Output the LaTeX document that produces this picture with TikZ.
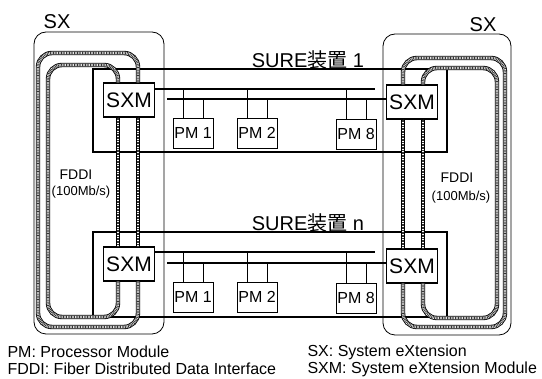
\documentclass[tikz,border=0pt]{standalone}
\usepackage{fontspec}
\setmainfont{Liberation Sans}
\newfontfamily\cjk{Noto Sans CJK JP}
\newcommand{\fs}[1]{\fontsize{#1}{#1}\selectfont}

\tikzset{
  sxbox/.style={draw, line width=0.8pt, rounded corners=12pt},
  unitbox/.style={draw, line width=1.3pt},
  sxmbox/.style={draw, line width=1.4pt, fill=white, minimum width=51pt,
    minimum height=34pt, inner sep=0pt, font=\fs{21}},
  pmbox/.style={draw, line width=0.9pt, fill=white, minimum width=40pt,
    minimum height=30pt, inner sep=0pt, font=\fs{16}},
  bus/.style={line width=2.2pt},
  tap/.style={line width=0.9pt},
  fddi/.style={draw=white, line width=2.6pt, rounded corners=14pt,
    preaction={draw=black, line width=4.4pt},
    postaction={draw=black!80, line width=2.6pt, dash pattern=on 0.8pt off 0.8pt}}
}

\begin{document}
\begin{tikzpicture}[x=1pt, y=-1pt]
        \useasboundingbox (0,0) rectangle (542,379);
        % SX
        \draw[sxbox] (34,32) rectangle (164,334);
        \draw[sxbox] (383,34) rectangle (511,335);
        \node[font=\fs{20}] (sxl) at (57,22) {SX};
        \node[font=\fs{20}] (sxr) at (483,25) {SX};
        % SURE 1
        \draw[unitbox] (93,69) rectangle (447,152);
        \node[font=\fs{20}] (u1) at (308,60) {SURE{\cjk 装置} 1};
        \node[sxmbox] (sa) at (129,100) {SXM};
        \node[sxmbox] (sb) at (412,102) {SXM};
        \node[pmbox] (pm11) at (193,133) {PM 1};
        \node[pmbox] (pm12) at (257,133) {PM 2};
        \node[pmbox] (pm18) at (356,134) {PM 8};
        \coordinate (t1) at (375,89);
        \coordinate (l1) at (167,99);
        \draw[bus] (sa.east |- t1) -- (t1);
        \draw[bus] (l1) -- (l1 -| sb.west);
        \draw[tap] ([xshift=-10pt]pm11.north) -- ([xshift=-10pt]pm11.north |- t1);
        \draw[tap] ([xshift=10pt]pm11.north) -- ([xshift=10pt]pm11.north |- l1);
        \draw[tap] ([xshift=-10pt]pm12.north) -- ([xshift=-10pt]pm12.north |- t1);
        \draw[tap] ([xshift=10pt]pm12.north) -- ([xshift=10pt]pm12.north |- l1);
        \draw[tap] ([xshift=-10pt]pm18.north) -- ([xshift=-10pt]pm18.north |- t1);
        \draw[tap] ([xshift=10pt]pm18.north) -- ([xshift=10pt]pm18.north |- l1);
        % SURE n
        \draw[unitbox] (93,232) rectangle (447,317);
        \node[font=\fs{20}] (un) at (308,223) {SURE{\cjk 装置} n};
        \node[sxmbox] (sc) at (129,264) {SXM};
        \node[sxmbox] (sd) at (412,266) {SXM};
        \node[pmbox] (pm21) at (193,297) {PM 1};
        \node[pmbox] (pm22) at (257,297) {PM 2};
        \node[pmbox] (pm28) at (356,298) {PM 8};
        \coordinate (t2) at (375,252);
        \coordinate (l2) at (167,263);
        \draw[bus] (sc.east |- t2) -- (t2);
        \draw[bus] (l2) -- (l2 -| sd.west);
        \draw[tap] ([xshift=-10pt]pm21.north) -- ([xshift=-10pt]pm21.north |- t2);
        \draw[tap] ([xshift=10pt]pm21.north) -- ([xshift=10pt]pm21.north |- l2);
        \draw[tap] ([xshift=-10pt]pm22.north) -- ([xshift=-10pt]pm22.north |- t2);
        \draw[tap] ([xshift=10pt]pm22.north) -- ([xshift=10pt]pm22.north |- l2);
        \draw[tap] ([xshift=-10pt]pm28.north) -- ([xshift=-10pt]pm28.north |- t2);
        \draw[tap] ([xshift=10pt]pm28.north) -- ([xshift=10pt]pm28.north |- l2);
        % anillos FDDI
        \draw[fddi] ([xshift=9pt]sa.north) |- (38,53) -- (38,327) -| ([xshift=9pt]sc.south);
        \draw[fddi] ([xshift=-11pt]sa.north) |- (48,65) -- (48,317) -| ([xshift=-11pt]sc.south);
        \draw[fddi] ([xshift=9pt]sa.south) -- ([xshift=9pt]sc.north);
        \draw[fddi] ([xshift=-11pt]sa.south) -- ([xshift=-11pt]sc.north);
        \draw[fddi] ([xshift=-9pt]sb.north) |- (505,58) -- (505,327) -| ([xshift=-9pt]sd.south);
        \draw[fddi] ([xshift=11pt]sb.north) |- (497,68) -- (497,318) -| ([xshift=11pt]sd.south);
        \draw[fddi] ([xshift=-9pt]sb.south) -- ([xshift=-9pt]sd.north);
        \draw[fddi] ([xshift=11pt]sb.south) -- ([xshift=11pt]sd.north);
        \node[font=\fs{14}] (fl) at (76,175) {FDDI};
        \node[font=\fs{13}] (rl) at (81,192) {(100Mb/s)};
        \node[font=\fs{14}] (fr) at (457,178) {FDDI};
        \node[font=\fs{13}] (rr) at (461,197) {(100Mb/s)};
        % leyenda
        \node[anchor=west, font=\fs{16}] (lg1) at (4,352) {PM: Processor Module};
        \node[anchor=west, font=\fs{16}] (lg2) at (4,369) {FDDI: Fiber Distributed Data Interface};
        \node[anchor=west, font=\fs{16}] (lg3) at (304,352) {SX: System eXtension};
        \node[anchor=west, font=\fs{16}] (lg4) at (304,369) {SXM: System eXtension Module};
\end{tikzpicture}
\end{document}
